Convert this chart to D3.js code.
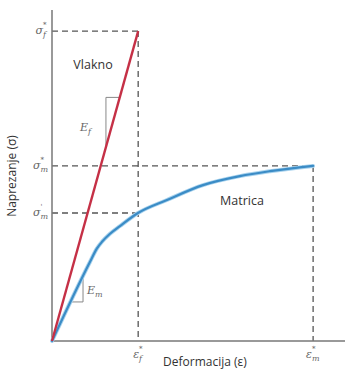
<!DOCTYPE html>
<html>
<head>
<meta charset="utf-8">
<script src="https://cdn.jsdelivr.net/npm/d3@7"></script>
<style>
  body { margin: 0; background: #fff; }
  svg { display: block; }
  .sym { font-family: "DejaVu Serif", "Liberation Serif", serif; font-style: italic; fill: #666; }
  .lbl { font-family: "Open Sans", "DejaVu Sans", sans-serif; fill: #333; }
</style>
</head>
<body>
<svg id="chart" width="345" height="370"></svg>
<script>
// values (unitless)
var epsF = 1.0;          // fibre failure strain
var epsM = 3.03;         // matrix failure strain
var sigF = 10.0;         // fibre strength
var sigM = 5.65;         // matrix strength
var sigMp = 4.13;        // matrix stress at fibre failure strain

var fibreStrain = [0, epsF];
var fibreStress = [0, sigF];

var matrixStrain = [0, 0.44, 0.52, 0.58, 0.673, 0.789, 0.998, 1.334, 1.752, 2.18, 2.53, 3.03];
var matrixStress = [0, 2.55, 2.98, 3.2, 3.46, 3.71, 4.13, 4.55, 5.03, 5.32, 5.48, 5.65];

// slope triangles
var efTriangle = [[0.626, 6.26], [0.626, 7.86], [0.786, 7.86]];
var emTriangle = [[0.36, 2.03], [0.36, 1.26], [0.22, 1.26]];

var svg = d3.select("#chart");
var x = d3.scaleLinear().domain([0, 3.4]).range([52, 345]);
var y = d3.scaleLinear().domain([0, 10.68]).range([341, 10]);

var dashColor = "#555";
function dashed(x1, y1, x2, y2) {
	svg.append("line")
		.attr("x1", x(x1)).attr("y1", y(y1))
		.attr("x2", x(x2)).attr("y2", y(y2))
		.attr("stroke", dashColor)
		.attr("stroke-width", 1.3)
		.attr("stroke-dasharray", "6,4");
}

// guide lines
dashed(0, sigF, epsF, sigF);
dashed(epsF, sigF, epsF, 0);
dashed(0, sigM, epsM, sigM);
dashed(epsM, sigM, epsM, 0);
dashed(0, sigMp, epsF, sigMp);

// axes (plain lines, no ticks)
svg.append("line")
	.attr("x1", x(0)).attr("y1", y(0))
	.attr("x2", x(0)).attr("y2", y.range()[1])
	.attr("stroke", "#777").attr("stroke-width", 1.5);
svg.append("line")
	.attr("x1", x(0)).attr("y1", y(0))
	.attr("x2", x.range()[1]).attr("y2", y(0))
	.attr("stroke", "#777").attr("stroke-width", 1.5);

// slope triangles
var tri = d3.line().x(function (d) { return x(d[0]); }).y(function (d) { return y(d[1]); });
svg.append("path").attr("d", tri(efTriangle))
	.attr("fill", "none").attr("stroke", "#888").attr("stroke-width", 1);
svg.append("path").attr("d", tri(emTriangle))
	.attr("fill", "none").attr("stroke", "#888").attr("stroke-width", 1);

// matrix curve
var matrixLine = d3.line()
	.x(function (d, i) { return x(matrixStrain[i]); })
	.y(function (d, i) { return y(matrixStress[i]); })
	.curve(d3.curveMonotoneX);
svg.append("path").datum(matrixStrain)
	.attr("d", matrixLine)
	.attr("fill", "none")
	.attr("stroke", "#a9d3ee")
	.attr("stroke-width", 4)
	.attr("stroke-linecap", "round");
svg.append("path").datum(matrixStrain)
	.attr("d", matrixLine)
	.attr("fill", "none")
	.attr("stroke", "#3b8cc6")
	.attr("stroke-width", 2.2)
	.attr("stroke-linecap", "round");

// fibre line
var fibreLine = d3.line()
	.x(function (d, i) { return x(fibreStrain[i]); })
	.y(function (d, i) { return y(fibreStress[i]); });
svg.append("path").datum(fibreStrain)
	.attr("d", fibreLine)
	.attr("fill", "none")
	.attr("stroke", "#c53046")
	.attr("stroke-width", 2.4);

// symbol labels: base letter, subscript and superscript as separate texts
function sym(px, py, base, sub, sup, anchor) {
	var g = svg.append("g");
	var b = g.append("text").attr("class", "sym")
		.attr("x", 0).attr("y", 0).attr("font-size", 11).text(base);
	var bw = b.node().getComputedTextLength();
	var s = g.append("text").attr("class", "sym")
		.attr("x", bw).attr("y", 3).attr("font-size", 8).text(sub);
	var w = bw + s.node().getComputedTextLength();
	if (sup) {
		g.append("text").attr("class", "sym")
			.attr("x", bw).attr("y", -7).attr("font-size", 7).text(sup);
	}
	var ox = anchor === "end" ? px - w : px;
	g.attr("transform", "translate(" + ox + "," + py + ")");
	return g;
}
sym(46, y(sigF) + 3, "σ", "f", "*", "end");
sym(48, y(sigM) + 3, "σ", "m", "*", "end");
sym(48, y(sigMp) + 3, "σ", "m", "'", "end");
sym(x(epsF) - 5, 358, "ε", "f", "*", "start");
sym(x(epsM) - 7, 358, "ε", "m", "*", "start");
sym(80, 131, "E", "f", null, "start");
sym(87, 294, "E", "m", null, "start");

// text labels
svg.append("text").attr("class", "lbl")
	.attr("x", 93).attr("y", 69)
	.attr("text-anchor", "middle").attr("font-size", 12.5)
	.text("Vlakno");
svg.append("text").attr("class", "lbl")
	.attr("x", 242).attr("y", 205)
	.attr("text-anchor", "middle").attr("font-size", 12.5)
	.text("Matrica");
svg.append("text").attr("class", "lbl")
	.attr("x", 205).attr("y", 366)
	.attr("text-anchor", "middle").attr("font-size", 12)
	.text("Deformacija (ε)");
svg.append("text").attr("class", "lbl")
	.attr("transform", "translate(16,176) rotate(-90)")
	.attr("text-anchor", "middle").attr("font-size", 12)
	.text("Naprezanje (σ)");
</script>
</body>
</html>
